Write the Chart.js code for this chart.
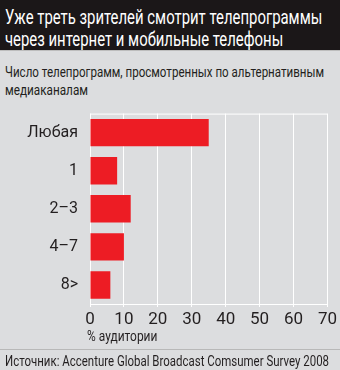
<!DOCTYPE html>
<html>
<head>
<meta charset="utf-8">
<script src="https://cdn.jsdelivr.net/npm/chart.js@4"></script>
<style>
  html, body { margin: 0; padding: 0; }
  body {
    width: 340px; height: 370px; overflow: hidden; position: relative;
    background: #dcdddf;
    font-family: Roboto, 'DejaVu Sans Condensed', sans-serif;
    color: #231f20;
  }
  .head {
    position: absolute; left: 0; top: 0; width: 340px; height: 50px;
    background: #1b1718; border-bottom: 1px solid #bdbdbd;
  }
  .fit {
    position: absolute; left: 5px; white-space: nowrap;
    transform-origin: 0 50%;
  }
  .t { color: #fff; font-size: 21px; line-height: 22px; }
  .s { font-size: 15px; line-height: 18px; }
  .foot {
    position: absolute; left: 0; top: 349px; width: 340px; height: 21px;
    border-top: 1px solid #b8b8b8;
  }
  #wrap { position: absolute; left: 0; top: 100px; width: 340px; height: 232px; }
</style>
</head>
<body>
<div class="head"></div>
<div class="foot"></div>
<span class="fit t" style="top:6px" data-w="317">Уже треть зрителей смотрит телепрограммы</span>
<span class="fit t" style="top:28px" data-w="278">через интернет и мобильные телефоны</span>
<span class="fit s" style="top:63px" data-w="319">Число телепрограмм, просмотренных по альтернативным</span>
<span class="fit s" style="top:81px" data-w="83">медиаканалам</span>
<div id="wrap"><canvas id="chart"></canvas></div>
<span class="fit s" style="top:327px; left:87px; font-size:14px" data-w="70">% аудитории</span>
<span class="fit s" style="top:352px" data-w="324">Источник: Accenture Global Broadcast Comsumer Survey 2008</span>

<script>
// ── Data ────────────────────────────────────────────
const categories = ['Любая', '1', '2–3', '4–7', '8>'];
const audience = [35, 8, 12, 10, 6];
const xTicks = [0, 10, 20, 30, 40, 50, 60, 70];

const FONT = "Roboto, 'DejaVu Sans Condensed', sans-serif";

// squeeze the condensed-looking text lines to their widths
document.querySelectorAll('.fit').forEach(el => {
    const w = +el.dataset.w;
    el.style.transform = 'scaleX(' + (w / el.offsetWidth) + ')';
});

// top edge of the plot frame
const topLine = {
    id: 'topLine',
    beforeDatasetsDraw(chart) {
        const { ctx, chartArea } = chart;
        ctx.save();
        ctx.strokeStyle = '#ffffff';
        ctx.lineWidth = 1;
        ctx.beginPath();
        ctx.moveTo(chartArea.left, chartArea.top + 0.5);
        ctx.lineTo(chartArea.right, chartArea.top + 0.5);
        ctx.stroke();
        ctx.restore();
    }
};

new Chart(document.getElementById('chart'), {
    type: 'bar',
    data: {
        labels: categories,
        datasets: [{
            data: audience,
            backgroundColor: '#ed1c24',
            borderWidth: 0,
            barPercentage: 0.72,
            categoryPercentage: 1
        }]
    },
    options: {
        indexAxis: 'y',
        responsive: true,
        maintainAspectRatio: false,
        animation: false,
        layout: { padding: { top: 11, right: 12, left: 0, bottom: 0 } },
        plugins: { legend: { display: false }, tooltip: { enabled: false } },
        scales: {
            x: {
                min: 0, max: 70,
                afterBuildTicks: axis => { axis.ticks = xTicks.map(v => ({ value: v })); },
                afterFit: axis => { axis.height = 28; },
                grid: { color: '#ffffff', lineWidth: 1, tickLength: 3 },
                border: { display: true, color: '#ffffff' },
                ticks: { font: { family: FONT, size: 17 }, color: '#231f20', padding: 3 }
            },
            y: {
                afterFit: axis => { axis.width = 90; },
                grid: { display: false },
                border: { display: false },
                ticks: { font: { family: FONT, size: 16 }, color: '#231f20', padding: 4 }
            }
        }
    },
    plugins: [topLine]
});
</script>
</body>
</html>
